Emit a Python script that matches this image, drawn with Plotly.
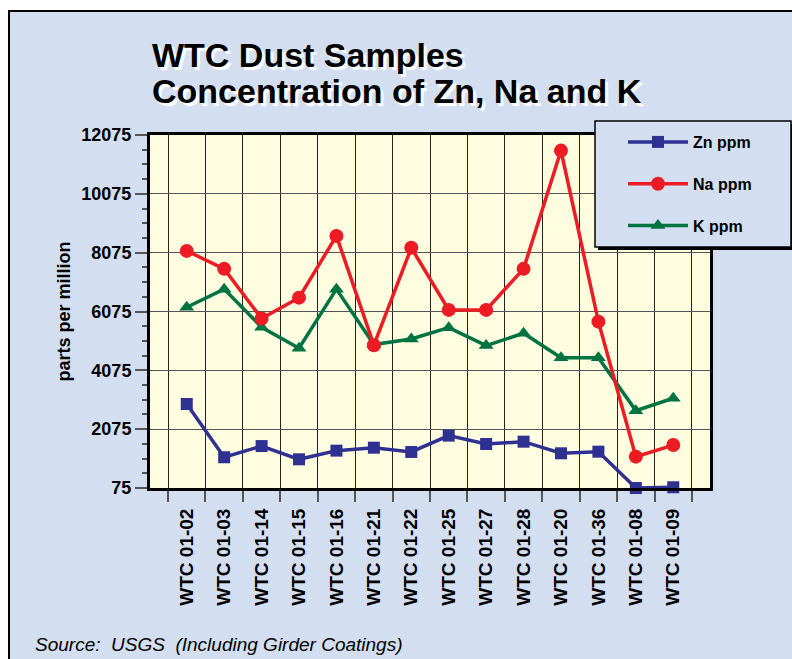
import plotly.graph_objects as go

# sample ids along the x axis
samples = ["WTC 01-02", "WTC 01-03", "WTC 01-14", "WTC 01-15", "WTC 01-16",
           "WTC 01-21", "WTC 01-22", "WTC 01-25", "WTC 01-27", "WTC 01-28",
           "WTC 01-20", "WTC 01-36", "WTC 01-08", "WTC 01-09"]

# concentrations in ppm
zn_ppm = [2930, 1120, 1500, 1050, 1345, 1445, 1300, 1855, 1570, 1650, 1255, 1310, 75, 100]
na_ppm = [8135, 7525, 5835, 6545, 8645, 4930, 8240, 6130, 6130, 7525, 11545, 5730, 1140, 1535]
k_ppm = [6220, 6835, 5540, 4825, 6835, 4950, 5140, 5525, 4915, 5335, 4505, 4505, 2705, 3125]

y_ticks = [75, 2075, 4075, 6075, 8075, 10075, 12075]

FONT = "Liberation Sans, Arial, Helvetica, sans-serif"
PANEL = "#d3dff1"
CREAM = "#fffde0"

# plot area in pixels: x 150..710, y 135..488
W, H = 792, 659
L, R, T, B = 150, 82, 135, 171
pw, ph = W - L - R, H - T - B


def px(x):
    return (x - L) / pw


def py(y):
    return (H - B - y) / ph


fig = go.Figure()

fig.add_trace(go.Scatter(x=samples, y=zn_ppm, name="Zn ppm", mode="lines+markers",
                         line=dict(color="#2e3192", width=3.5),
                         marker=dict(symbol="square", size=12, color="#2e3192"),
                         legendgroup="zn", legendrank=1, cliponaxis=False))
fig.add_trace(go.Scatter(x=samples, y=k_ppm, name="K ppm", mode="lines+markers",
                         line=dict(color="#007342", width=3.5),
                         marker=dict(symbol="triangle-up", size=13, color="#007342"),
                         legendgroup="k", legendrank=3, cliponaxis=False))
fig.add_trace(go.Scatter(x=samples, y=na_ppm, name="Na ppm", mode="lines+markers",
                         line=dict(color="#ed1c24", width=3.5),
                         marker=dict(symbol="circle", size=14, color="#ed1c24"),
                         legendgroup="na", legendrank=2, cliponaxis=False))

shapes = [
    # light blue panel with black frame
    dict(type="rect", xref="paper", yref="paper", layer="below",
         x0=px(9), x1=px(800), y0=py(680), y1=py(11),
         fillcolor=PANEL, line=dict(color="black", width=2)),
    # cream plot area
    dict(type="rect", xref="paper", yref="paper", layer="below",
         x0=0, x1=1, y0=0, y1=1, fillcolor=CREAM, line=dict(width=0)),
    # legend drop shadow and box
    dict(type="rect", xref="paper", yref="paper", layer="above",
         x0=px(598), x1=px(794), y0=py(250), y1=py(124),
         fillcolor="black", line=dict(width=0)),
    dict(type="rect", xref="paper", yref="paper", layer="above",
         x0=px(595), x1=px(791), y0=py(247), y1=py(121),
         fillcolor=PANEL, line=dict(color="black", width=1.5)),
]

title_font = dict(family=FONT, size=34, color="black", weight="bold",
                  shadow="3px 3px 1px white")

annotations = [
    dict(text="WTC Dust Samples", xref="paper", yref="paper", x=0, y=py(76),
         xanchor="left", yanchor="bottom", showarrow=False, font=title_font),
    dict(text="Concentration of Zn, Na and K", xref="paper", yref="paper", x=0, y=py(112),
         xanchor="left", yanchor="bottom", showarrow=False, font=title_font),
    dict(text="<i>Source:  USGS  (Including Girder Coatings)</i>", xref="paper", yref="paper",
         x=px(33), y=py(644), xanchor="left", yanchor="middle", showarrow=False,
         font=dict(family=FONT, size=19, color="black")),
]

fig.update_layout(
    width=W, height=H,
    margin=dict(l=L, r=R, t=T, b=B, autoexpand=False),
    paper_bgcolor="white",
    plot_bgcolor="rgba(0,0,0,0)",
    font=dict(family=FONT, color="black"),
    shapes=shapes,
    annotations=annotations,
    showlegend=True,
    legend=dict(x=px(603), y=py(125), xanchor="left", yanchor="top",
                bgcolor="rgba(0,0,0,0)", borderwidth=0,
                font=dict(family=FONT, size=16, weight="bold"),
                traceorder="grouped", tracegroupgap=18,
                itemwidth=60, indentation=20),
)

fig.update_xaxes(
    type="category", tickson="boundaries", ticks="outside", ticklen=11, tickwidth=1.5,
    tickcolor="#555", tickangle=-90, ticklabelstandoff=10,
    tickfont=dict(family=FONT, size=19, weight="bold"),
    showgrid=True, gridcolor="#222", gridwidth=1.2,
    showline=True, linecolor="black", linewidth=3, mirror=True,
)

fig.update_yaxes(
    range=[75, 12075], tickmode="array", tickvals=y_ticks,
    ticktext=[str(v) for v in y_ticks],
    ticks="outside", ticklen=12, tickwidth=1.5, tickcolor="#555",
    tickfont=dict(family=FONT, size=18, weight="bold"),
    minor=dict(ticks="outside", ticklen=5, tickwidth=1.5, tickcolor="#555",
               tick0=75, dtick=500, showgrid=False),
    showgrid=True, gridcolor="#555", gridwidth=1.2, zeroline=False,
    showline=True, linecolor="black", linewidth=3, mirror=True,
    title=dict(text="parts per million", standoff=7,
               font=dict(family=FONT, size=18, weight="bold")),
)

# drop the page's default body margin so the figure sits at the window corner
fig.write_html("out.html", config={"displayModeBar": False},
               post_script="document.body.style.margin='0';")
